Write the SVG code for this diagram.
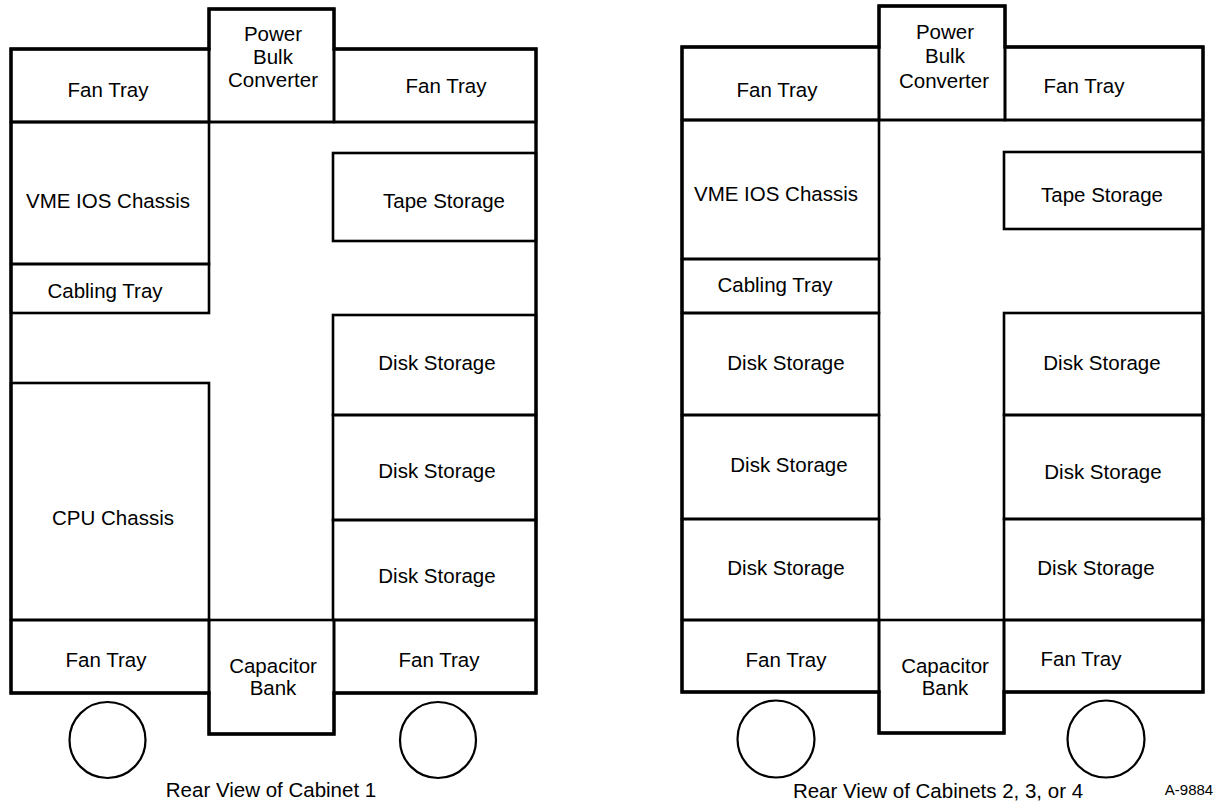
<svg xmlns="http://www.w3.org/2000/svg" width="1230" height="804" viewBox="0 0 1230 804">
<style>
  .bg{fill:#fff}
  .box{fill:none;stroke:#000;stroke-width:2.6}
  .outline{fill:none;stroke:#000;stroke-width:3.4;stroke-linejoin:miter}
  .wheel{fill:none;stroke:#000;stroke-width:2.2}
  text{font-family:"Liberation Sans",Arial,Helvetica,sans-serif;font-size:20.5px;fill:#000;text-anchor:middle}
  .small{font-size:15px}
</style>
<rect class="bg" x="0" y="0" width="1230" height="804"/>

<!-- ===== Cabinet 1 ===== -->
<g id="cabinet1">
  <g id="c1-fan-tl"><rect class="box" x="11" y="49" width="198" height="73"/><text x="108" y="97">Fan Tray</text></g>
  <g id="c1-pbc"><rect class="box" x="209" y="9" width="125" height="113"/><text x="273" y="41">Power</text><text x="273" y="64">Bulk</text><text x="273" y="87">Converter</text></g>
  <g id="c1-fan-tr"><rect class="box" x="334" y="49" width="202" height="73"/><text x="446" y="93">Fan Tray</text></g>
  <g id="c1-vme"><rect class="box" x="11" y="122" width="198" height="142"/><text x="108" y="208">VME IOS Chassis</text></g>
  <g id="c1-cabling"><rect class="box" x="11" y="264" width="198" height="49"/><text x="105" y="298">Cabling Tray</text></g>
  <g id="c1-cpu"><rect class="box" x="11" y="383" width="198" height="237"/><text x="113" y="525">CPU Chassis</text></g>
  <g id="c1-tape"><rect class="box" x="333" y="153" width="203" height="88"/><text x="444" y="208">Tape Storage</text></g>
  <g id="c1-disk1"><rect class="box" x="333" y="315" width="203" height="100"/><text x="437" y="370">Disk Storage</text></g>
  <g id="c1-disk2"><rect class="box" x="333" y="415" width="203" height="105"/><text x="437" y="478">Disk Storage</text></g>
  <g id="c1-disk3"><rect class="box" x="333" y="520" width="203" height="100"/><text x="437" y="583">Disk Storage</text></g>
  <g id="c1-fan-bl"><rect class="box" x="11" y="620" width="198" height="73"/><text x="106" y="667">Fan Tray</text></g>
  <g id="c1-cap"><rect class="box" x="209" y="620" width="125" height="114"/><text x="273" y="673">Capacitor</text><text x="273" y="695">Bank</text></g>
  <g id="c1-fan-br"><rect class="box" x="334" y="620" width="202" height="73"/><text x="439" y="667">Fan Tray</text></g>
  <g id="c1-frame"><path class="outline" d="M11,49 H209 V9 H334 V49 H536 V693 H334 V734 H209 V693 H11 Z"/><line class="box" x1="11" y1="122" x2="536" y2="122"/></g>
  <g id="c1-wheels"><circle class="wheel" cx="107.5" cy="740" r="38"/><circle class="wheel" cx="438" cy="740" r="38"/></g>
  <text id="c1-caption" x="271" y="797">Rear View of Cabinet 1</text>
</g>

<!-- ===== Cabinets 2, 3, 4 ===== -->
<g id="cabinet2">
  <g id="c2-fan-tl"><rect class="box" x="682" y="47" width="197" height="73"/><text x="777" y="97">Fan Tray</text></g>
  <g id="c2-pbc"><rect class="box" x="879" y="6" width="126" height="114"/><text x="945" y="39">Power</text><text x="945" y="63">Bulk</text><text x="944" y="88">Converter</text></g>
  <g id="c2-fan-tr"><rect class="box" x="1005" y="47" width="198" height="73"/><text x="1084" y="93">Fan Tray</text></g>
  <g id="c2-vme"><rect class="box" x="682" y="120" width="197" height="139"/><text x="776" y="201">VME IOS Chassis</text></g>
  <g id="c2-cabling"><rect class="box" x="682" y="259" width="197" height="54"/><text x="775" y="292">Cabling Tray</text></g>
  <g id="c2-ldisk1"><rect class="box" x="682" y="313" width="197" height="102"/><text x="786" y="370">Disk Storage</text></g>
  <g id="c2-ldisk2"><rect class="box" x="682" y="415" width="197" height="104"/><text x="789" y="472">Disk Storage</text></g>
  <g id="c2-ldisk3"><rect class="box" x="682" y="519" width="197" height="101"/><text x="786" y="575">Disk Storage</text></g>
  <g id="c2-tape"><rect class="box" x="1004" y="152" width="199" height="77"/><text x="1102" y="202">Tape Storage</text></g>
  <g id="c2-rdisk1"><rect class="box" x="1004" y="313" width="199" height="102"/><text x="1102" y="370">Disk Storage</text></g>
  <g id="c2-rdisk2"><rect class="box" x="1004" y="415" width="199" height="104"/><text x="1103" y="479">Disk Storage</text></g>
  <g id="c2-rdisk3"><rect class="box" x="1004" y="519" width="199" height="101"/><text x="1096" y="575">Disk Storage</text></g>
  <g id="c2-fan-bl"><rect class="box" x="682" y="620" width="197" height="72"/><text x="786" y="667">Fan Tray</text></g>
  <g id="c2-cap"><rect class="box" x="879" y="620" width="125" height="113"/><text x="945" y="673">Capacitor</text><text x="945" y="695">Bank</text></g>
  <g id="c2-fan-br"><rect class="box" x="1004" y="620" width="199" height="72"/><text x="1081" y="666">Fan Tray</text></g>
  <g id="c2-frame"><path class="outline" d="M682,47 H879 V6 H1005 V47 H1203 V692 H1004 V733 H879 V692 H682 Z"/><line class="box" x1="682" y1="120" x2="1203" y2="120"/></g>
  <g id="c2-wheels"><circle class="wheel" cx="776" cy="739" r="38.5"/><circle class="wheel" cx="1106" cy="739" r="38.5"/></g>
  <text id="c2-caption" x="938" y="798">Rear View of Cabinets 2, 3, or 4</text>
</g>
<text id="figure-id" class="small" x="1189" y="795">A-9884</text>
</svg>
